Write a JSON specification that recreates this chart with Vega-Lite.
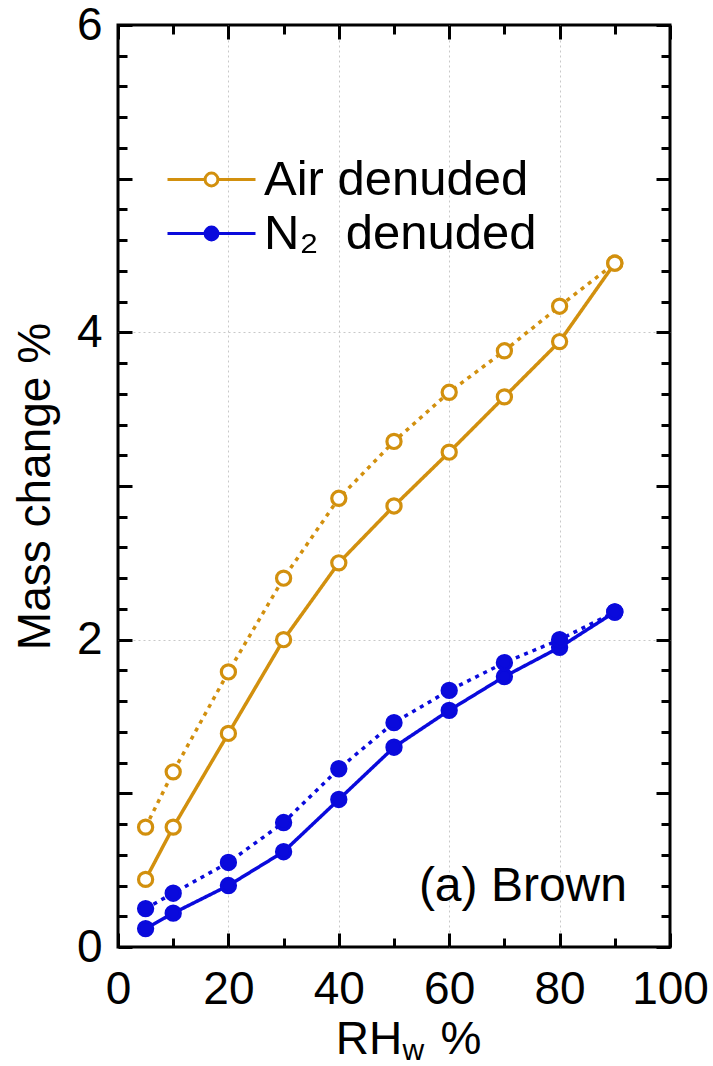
{
  "$schema": "https://vega.github.io/schema/vega-lite/v6.json",
  "width": 552,
  "height": 922,
  "autosize": {"type": "none"},
  "padding": {"left": 118, "top": 25, "right": 43, "bottom": 119},
  "background": "white",
  "config": {
    "font": "Liberation Sans",
    "view": {"stroke": "black", "strokeWidth": 3},
    "axis": {
      "domain": false,
      "tickColor": "black",
      "tickWidth": 3,
      "labelFont": "Liberation Sans",
      "labelFontSize": 46,
      "labelColor": "black",
      "labelFlush": false,
      "labelOverlap": false,
      "titleFont": "Liberation Sans",
      "titleFontSize": 46,
      "titleFontWeight": "normal",
      "titleColor": "black",
      "gridColor": "#c8c8c8",
      "gridDash": [2, 3],
      "gridWidth": 1
    },
    "legend": {
      "labelFont": "Liberation Sans",
      "labelFontSize": 49,
      "labelColor": "black",
      "labelLimit": 500
    }
  },
  "data": {
    "values": [
      {"rh": 5, "mass": 0.44, "series": "Air denuded", "run": "solid"},
      {"rh": 10, "mass": 0.78, "series": "Air denuded", "run": "solid"},
      {"rh": 20, "mass": 1.39, "series": "Air denuded", "run": "solid"},
      {"rh": 30, "mass": 2.0, "series": "Air denuded", "run": "solid"},
      {"rh": 40, "mass": 2.5, "series": "Air denuded", "run": "solid"},
      {"rh": 50, "mass": 2.87, "series": "Air denuded", "run": "solid"},
      {"rh": 60, "mass": 3.22, "series": "Air denuded", "run": "solid"},
      {"rh": 70, "mass": 3.58, "series": "Air denuded", "run": "solid"},
      {"rh": 80, "mass": 3.94, "series": "Air denuded", "run": "solid"},
      {"rh": 90, "mass": 4.45, "series": "Air denuded", "run": "solid"},
      {"rh": 5, "mass": 0.78, "series": "Air denuded", "run": "dotted"},
      {"rh": 10, "mass": 1.14, "series": "Air denuded", "run": "dotted"},
      {"rh": 20, "mass": 1.79, "series": "Air denuded", "run": "dotted"},
      {"rh": 30, "mass": 2.4, "series": "Air denuded", "run": "dotted"},
      {"rh": 40, "mass": 2.92, "series": "Air denuded", "run": "dotted"},
      {"rh": 50, "mass": 3.29, "series": "Air denuded", "run": "dotted"},
      {"rh": 60, "mass": 3.61, "series": "Air denuded", "run": "dotted"},
      {"rh": 70, "mass": 3.88, "series": "Air denuded", "run": "dotted"},
      {"rh": 80, "mass": 4.17, "series": "Air denuded", "run": "dotted"},
      {"rh": 90, "mass": 4.45, "series": "Air denuded", "run": "dotted"},
      {"rh": 5, "mass": 0.12, "series": "N₂\u00a0 denuded", "run": "solid"},
      {"rh": 10, "mass": 0.22, "series": "N₂\u00a0 denuded", "run": "solid"},
      {"rh": 20, "mass": 0.4, "series": "N₂\u00a0 denuded", "run": "solid"},
      {"rh": 30, "mass": 0.62, "series": "N₂\u00a0 denuded", "run": "solid"},
      {"rh": 40, "mass": 0.96, "series": "N₂\u00a0 denuded", "run": "solid"},
      {"rh": 50, "mass": 1.3, "series": "N₂\u00a0 denuded", "run": "solid"},
      {"rh": 60, "mass": 1.54, "series": "N₂\u00a0 denuded", "run": "solid"},
      {"rh": 70, "mass": 1.76, "series": "N₂\u00a0 denuded", "run": "solid"},
      {"rh": 80, "mass": 1.95, "series": "N₂\u00a0 denuded", "run": "solid"},
      {"rh": 90, "mass": 2.18, "series": "N₂\u00a0 denuded", "run": "solid"},
      {"rh": 5, "mass": 0.25, "series": "N₂\u00a0 denuded", "run": "dotted"},
      {"rh": 10, "mass": 0.35, "series": "N₂\u00a0 denuded", "run": "dotted"},
      {"rh": 20, "mass": 0.55, "series": "N₂\u00a0 denuded", "run": "dotted"},
      {"rh": 30, "mass": 0.81, "series": "N₂\u00a0 denuded", "run": "dotted"},
      {"rh": 40, "mass": 1.16, "series": "N₂\u00a0 denuded", "run": "dotted"},
      {"rh": 50, "mass": 1.46, "series": "N₂\u00a0 denuded", "run": "dotted"},
      {"rh": 60, "mass": 1.67, "series": "N₂\u00a0 denuded", "run": "dotted"},
      {"rh": 70, "mass": 1.85, "series": "N₂\u00a0 denuded", "run": "dotted"},
      {"rh": 80, "mass": 2.0, "series": "N₂\u00a0 denuded", "run": "dotted"},
      {"rh": 90, "mass": 2.18, "series": "N₂\u00a0 denuded", "run": "dotted"}
    ]
  },
  "resolve": {"axis": {"x": "independent", "y": "independent"}},
  "layer": [
    {
      "mark": {"type": "line", "strokeWidth": 3.5},
      "encoding": {
        "x": {
          "field": "rh", "type": "quantitative",
          "scale": {"domain": [0, 100], "nice": false, "zero": false},
          "axis": {
            "orient": "bottom",
            "values": [0, 10, 20, 30, 40, 50, 60, 70, 80, 90, 100],
            "tickSize": {"condition": {"test": "datum.value % 20 == 0", "value": -14}, "value": -9},
            "labelExpr": "datum.value % 20 == 0 ? datum.label : ''",
            "labelPadding": 34,
            "grid": true,
            "gridOpacity": {"condition": {"test": "datum.value > 0 && datum.value < 100 && datum.value % 20 == 0", "value": 1}, "value": 0},
            "title": "RH\u00a0\u00a0\u00a0%",
            "titleX": 290,
            "titleY": 106,
            "titleBaseline": "alphabetic",
            "titleAlign": "center"
          }
        },
        "y": {
          "field": "mass", "type": "quantitative",
          "scale": {"domain": [0, 6], "nice": false},
          "axis": {
            "orient": "left",
            "values": [0, 0.2, 0.4, 0.6, 0.8, 1, 1.2, 1.4, 1.6, 1.8, 2, 2.2, 2.4, 2.6, 2.8, 3, 3.2, 3.4, 3.6, 3.8, 4, 4.2, 4.4, 4.6, 4.8, 5, 5.2, 5.4, 5.6, 5.8, 6],
            "format": ".0f",
            "tickSize": {"condition": {"test": "datum.value == round(datum.value)", "value": -14}, "value": -9},
            "labelExpr": "(datum.value == 0 || datum.value == 2 || datum.value == 4 || datum.value == 6) ? datum.label : ''",
            "labelPadding": 30,
            "grid": true,
            "gridOpacity": {"condition": {"test": "datum.value == 2 || datum.value == 4", "value": 1}, "value": 0},
            "title": "Mass change %",
            "titleX": -69,
            "titleY": 461,
            "titleAngle": 270,
            "titleBaseline": "alphabetic",
            "titleAlign": "center"
          }
        },
        "stroke": {
          "field": "series", "type": "nominal",
          "scale": {"domain": ["Air denuded", "N₂\u00a0 denuded"], "range": ["#d2900e", "#0a0adc"]},
          "legend": {
            "title": null,
            "orient": "none",
            "legendX": 69,
            "legendY": 130,
            "padding": 0,
            "rowPadding": 4,
            "symbolType": "M-5.5,0L-0.8,0M0.8,0L5.5,0M-0.8,0A0.8,0.8,0,1,1,0.8,0A0.8,0.8,0,1,1,-0.8,0",
            "symbolSize": 256,
            "symbolStrokeWidth": 3,
            "labelOffset": 28,
            "labelFontSize": 49,
            "labelLimit": 500
          }
        },
        "strokeDash": {
          "field": "run", "type": "nominal",
          "scale": {"domain": ["solid", "dotted"], "range": [[1, 0], [4, 5]]},
          "legend": null
        }
      }
    },
    {
      "mark": {"type": "point", "shape": "circle", "size": 200, "strokeWidth": 3.2, "opacity": 1},
      "encoding": {
        "x": {
          "field": "rh", "type": "quantitative",
          "axis": {
            "orient": "top",
            "values": [0, 10, 20, 30, 40, 50, 60, 70, 80, 90, 100],
            "tickSize": {"condition": {"test": "datum.value % 20 == 0", "value": -14}, "value": -9},
            "labels": false,
            "grid": false,
            "title": null
          }
        },
        "y": {
          "field": "mass", "type": "quantitative",
          "axis": {
            "orient": "right",
            "values": [0, 0.2, 0.4, 0.6, 0.8, 1, 1.2, 1.4, 1.6, 1.8, 2, 2.2, 2.4, 2.6, 2.8, 3, 3.2, 3.4, 3.6, 3.8, 4, 4.2, 4.4, 4.6, 4.8, 5, 5.2, 5.4, 5.6, 5.8, 6],
            "tickSize": {"condition": {"test": "datum.value == round(datum.value)", "value": -14}, "value": -9},
            "labels": false,
            "grid": false,
            "title": null
          }
        },
        "stroke": {
          "field": "series", "type": "nominal",
          "legend": {
            "title": null,
            "orient": "none",
            "legendX": 69,
            "legendY": 130,
            "padding": 0,
            "rowPadding": 4,
            "symbolType": "M-5.5,0L-0.8,0M0.8,0L5.5,0M-0.8,0A0.8,0.8,0,1,1,0.8,0A0.8,0.8,0,1,1,-0.8,0",
            "symbolSize": 256,
            "symbolStrokeWidth": 3,
            "labelOffset": 28,
            "labelFontSize": 49,
            "labelLimit": 500
          }
        },
        "fill": {
          "field": "series", "type": "nominal",
          "scale": {"domain": ["Air denuded", "N₂\u00a0 denuded"], "range": ["white", "#0a0adc"]},
          "legend": {
            "title": null,
            "orient": "none",
            "legendX": 69,
            "legendY": 130,
            "padding": 0,
            "rowPadding": 4,
            "symbolType": "M-5.5,0L-0.8,0M0.8,0L5.5,0M-0.8,0A0.8,0.8,0,1,1,0.8,0A0.8,0.8,0,1,1,-0.8,0",
            "symbolSize": 256,
            "symbolStrokeWidth": 3,
            "labelOffset": 28,
            "labelFontSize": 49,
            "labelLimit": 500
          }
        }
      }
    },
    {
      "data": {"values": [{}]},
      "mark": {"type": "text", "text": "(a) Brown", "align": "right", "baseline": "alphabetic", "fontSize": 48, "font": "Liberation Sans", "color": "black"},
      "encoding": {
        "x": {"datum": 92.2, "type": "quantitative", "axis": null},
        "y": {"datum": 0.3, "type": "quantitative", "axis": null}
      }
    },
    {
      "data": {"values": [{}]},
      "mark": {"type": "text", "text": "w", "align": "center", "baseline": "alphabetic", "fontSize": 30, "font": "Liberation Sans", "color": "black", "dy": 113, "clip": false},
      "encoding": {
        "x": {"datum": 53.5, "type": "quantitative", "axis": null},
        "y": {"datum": 0, "type": "quantitative", "axis": null}
      }
    }
  ]
}
